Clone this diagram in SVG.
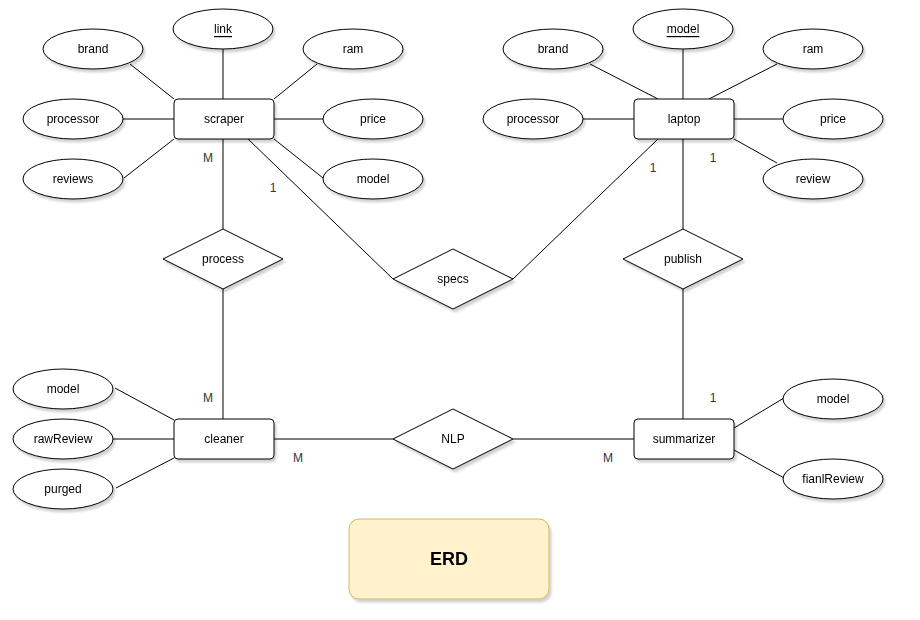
<svg xmlns="http://www.w3.org/2000/svg" width="920" height="620" viewBox="0 0 920 620">
<style>
.sh{fill:#fff;stroke:#000;stroke-width:1}
.ln{stroke:#000;stroke-width:1;fill:none}
text{font-family:"Liberation Sans",Arial,sans-serif;font-size:12px;fill:#000;text-anchor:middle;dominant-baseline:central}
.lbl{fill:#333}
.title{font-size:18px;font-weight:bold}
</style>
<defs>
<filter id="shadow" x="-20%" y="-20%" width="150%" height="160%">
<feDropShadow dx="2" dy="3" stdDeviation="1.2" flood-color="#000" flood-opacity="0.18"/>
</filter>
</defs>
<rect width="920" height="620" fill="#fff"/>
<g id="connectors">
<line class="ln" x1="130" y1="64" x2="174" y2="99"/>
<line class="ln" x1="223" y1="49" x2="223" y2="99"/>
<line class="ln" x1="317" y1="64" x2="274" y2="99"/>
<line class="ln" x1="123" y1="119" x2="174" y2="119"/>
<line class="ln" x1="274" y1="119" x2="323" y2="119"/>
<line class="ln" x1="124" y1="178" x2="174" y2="139"/>
<line class="ln" x1="274" y1="139" x2="323" y2="178"/>
<line class="ln" x1="590" y1="64" x2="658" y2="99"/>
<line class="ln" x1="683" y1="49" x2="683" y2="99"/>
<line class="ln" x1="777" y1="64" x2="709" y2="99"/>
<line class="ln" x1="583" y1="119" x2="634" y2="119"/>
<line class="ln" x1="734" y1="119" x2="783" y2="119"/>
<line class="ln" x1="734" y1="139" x2="777" y2="163"/>
<line class="ln" x1="223" y1="139" x2="223" y2="229"/>
<line class="ln" x1="223" y1="289" x2="223" y2="419"/>
<line class="ln" x1="248" y1="139" x2="393" y2="279"/>
<line class="ln" x1="658" y1="139" x2="513" y2="279"/>
<line class="ln" x1="683" y1="139" x2="683" y2="229"/>
<line class="ln" x1="683" y1="289" x2="683" y2="419"/>
<line class="ln" x1="274" y1="439" x2="393" y2="439"/>
<line class="ln" x1="513" y1="439" x2="634" y2="439"/>
<line class="ln" x1="115" y1="388" x2="174" y2="420"/>
<line class="ln" x1="113" y1="439" x2="174" y2="439"/>
<line class="ln" x1="116" y1="488" x2="174" y2="458"/>
<line class="ln" x1="734" y1="428" x2="784" y2="398"/>
<line class="ln" x1="734" y1="450" x2="784" y2="478"/>
<text class="lbl" x="208" y="158">M</text>
<text class="lbl" x="273" y="188">1</text>
<text class="lbl" x="653" y="168">1</text>
<text class="lbl" x="713" y="158">1</text>
<text class="lbl" x="208" y="398">M</text>
<text class="lbl" x="298" y="458">M</text>
<text class="lbl" x="608" y="458">M</text>
<text class="lbl" x="713" y="398">1</text>
</g>
<g id="scraper" filter="url(#shadow)"><rect class="sh" x="174" y="99" width="100" height="40" rx="4"/><text x="224" y="119">scraper</text></g>
<g id="scraper-link" filter="url(#shadow)"><ellipse class="sh" cx="223" cy="29" rx="50" ry="20"/><text x="223" y="29" text-decoration="underline">link</text></g>
<g id="scraper-brand" filter="url(#shadow)"><ellipse class="sh" cx="93" cy="49" rx="50" ry="20"/><text x="93" y="49">brand</text></g>
<g id="scraper-ram" filter="url(#shadow)"><ellipse class="sh" cx="353" cy="49" rx="50" ry="20"/><text x="353" y="49">ram</text></g>
<g id="scraper-processor" filter="url(#shadow)"><ellipse class="sh" cx="73" cy="119" rx="50" ry="20"/><text x="73" y="119">processor</text></g>
<g id="scraper-price" filter="url(#shadow)"><ellipse class="sh" cx="373" cy="119" rx="50" ry="20"/><text x="373" y="119">price</text></g>
<g id="scraper-reviews" filter="url(#shadow)"><ellipse class="sh" cx="73" cy="179" rx="50" ry="20"/><text x="73" y="179">reviews</text></g>
<g id="scraper-model" filter="url(#shadow)"><ellipse class="sh" cx="373" cy="179" rx="50" ry="20"/><text x="373" y="179">model</text></g>
<g id="laptop" filter="url(#shadow)"><rect class="sh" x="634" y="99" width="100" height="40" rx="4"/><text x="684" y="119">laptop</text></g>
<g id="laptop-model" filter="url(#shadow)"><ellipse class="sh" cx="683" cy="29" rx="50" ry="20"/><text x="683" y="29" text-decoration="underline">model</text></g>
<g id="laptop-brand" filter="url(#shadow)"><ellipse class="sh" cx="553" cy="49" rx="50" ry="20"/><text x="553" y="49">brand</text></g>
<g id="laptop-ram" filter="url(#shadow)"><ellipse class="sh" cx="813" cy="49" rx="50" ry="20"/><text x="813" y="49">ram</text></g>
<g id="laptop-processor" filter="url(#shadow)"><ellipse class="sh" cx="533" cy="119" rx="50" ry="20"/><text x="533" y="119">processor</text></g>
<g id="laptop-price" filter="url(#shadow)"><ellipse class="sh" cx="833" cy="119" rx="50" ry="20"/><text x="833" y="119">price</text></g>
<g id="laptop-review" filter="url(#shadow)"><ellipse class="sh" cx="813" cy="179" rx="50" ry="20"/><text x="813" y="179">review</text></g>
<g id="process" filter="url(#shadow)"><polygon class="sh" points="163,259 223,229 283,259 223,289"/><text x="223" y="259">process</text></g>
<g id="specs" filter="url(#shadow)"><polygon class="sh" points="393,279 453,249 513,279 453,309"/><text x="453" y="279">specs</text></g>
<g id="publish" filter="url(#shadow)"><polygon class="sh" points="623,259 683,229 743,259 683,289"/><text x="683" y="259">publish</text></g>
<g id="cleaner" filter="url(#shadow)"><rect class="sh" x="174" y="419" width="100" height="40" rx="4"/><text x="224" y="439">cleaner</text></g>
<g id="cleaner-model" filter="url(#shadow)"><ellipse class="sh" cx="63" cy="389" rx="50" ry="20"/><text x="63" y="389">model</text></g>
<g id="cleaner-rawReview" filter="url(#shadow)"><ellipse class="sh" cx="63" cy="439" rx="50" ry="20"/><text x="63" y="439">rawReview</text></g>
<g id="cleaner-purged" filter="url(#shadow)"><ellipse class="sh" cx="63" cy="489" rx="50" ry="20"/><text x="63" y="489">purged</text></g>
<g id="NLP" filter="url(#shadow)"><polygon class="sh" points="393,439 453,409 513,439 453,469"/><text x="453" y="439">NLP</text></g>
<g id="summarizer" filter="url(#shadow)"><rect class="sh" x="634" y="419" width="100" height="40" rx="4"/><text x="684" y="439">summarizer</text></g>
<g id="summarizer-model" filter="url(#shadow)"><ellipse class="sh" cx="833" cy="399" rx="50" ry="20"/><text x="833" y="399">model</text></g>
<g id="summarizer-fianlReview" filter="url(#shadow)"><ellipse class="sh" cx="833" cy="479" rx="50" ry="20"/><text x="833" y="479">fianlReview</text></g>
<g id="ERD" filter="url(#shadow)"><rect x="349" y="519" width="200" height="80" rx="10" fill="#fff2cc" stroke="#d6b656" stroke-width="1"/><text class="title" x="449" y="559">ERD</text></g>
</svg>
